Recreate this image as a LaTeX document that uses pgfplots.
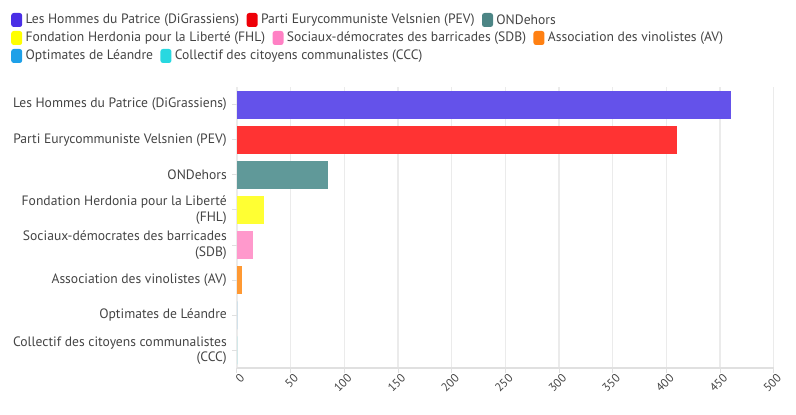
\documentclass[border=0pt]{standalone}
\usepackage{pgfplots}
\pgfplotsset{compat=1.18}
\usepackage{fontspec}
\setmainfont{PT Sans}
\definecolor{labc}{HTML}{444444}
\definecolor{gridc}{HTML}{EBEBEB}
\definecolor{axisc}{HTML}{E0E0E0}
\definecolor{b1}{HTML}{6452EA}
\definecolor{b2}{HTML}{FF3333}
\definecolor{b3}{HTML}{609999}
\definecolor{b4}{HTML}{FFFF33}
\definecolor{b5}{HTML}{FF99CC}
\definecolor{b6}{HTML}{FF9933}
\definecolor{l1}{HTML}{4A2EE6}
\definecolor{l2}{HTML}{EE0008}
\definecolor{l3}{HTML}{4C8585}
\definecolor{l4}{HTML}{FFFF00}
\definecolor{l5}{HTML}{FF80C4}
\definecolor{l6}{HTML}{FF8012}
\definecolor{l7}{HTML}{1EA0E8}
\definecolor{l8}{HTML}{28D8E0}
\newcommand\labfont{\fontsize{13.6}{15.5}\selectfont}
\newcommand\legentry[4]{%
  \node[fill=#2, rounded corners=2.5pt, minimum width=11pt, minimum height=14pt, inner sep=0pt, anchor=west] (#1s) at #3 {};
  \node[anchor=west, inner sep=0pt, text=labc, font=\labfont] (#1) at ([xshift=3pt]#1s.east) {#4};
}
\begin{document}
\begin{tikzpicture}[x=1pt,y=1pt]
\useasboundingbox (0,0) rectangle (796,415);
\begin{axis}[
  at={(237pt,47pt)}, anchor=south west,
  width=536.7pt, height=281pt, scale only axis,
  xmin=0, xmax=500, ymin=-0.5, ymax=7.5, y dir=reverse,
  xbar, bar width=28pt, bar shift=0pt,
  xtick={0,50,...,500}, ytick={0,...,7},
  yticklabels={Les Hommes du Patrice (DiGrassiens),Parti Eurycommuniste Velsnien (PEV),ONDehors,{Fondation Herdonia pour la Liberté\\(FHL)},{Sociaux-démocrates des barricades\\(SDB)},Association des vinolistes (AV),Optimates de Léandre,{Collectif des citoyens communalistes\\(CCC)}},
  xmajorgrids, grid style={color=gridc, line width=1.3pt},
  axis x line*=bottom, axis y line*=left,
  x axis line style={color=axisc, line width=1.6pt, -},
  y axis line style={draw=none},
  tick style={color=axisc, line width=1pt},
  major tick length=5pt, tick align=outside,
  y tick label style={align=right, text=labc, font=\labfont, inner sep=0pt, xshift=-5pt},
  x tick label style={rotate=45, anchor=east, text=labc, font=\fontsize{11.8}{13}\selectfont, xshift=5pt, yshift=-6pt},
  /pgf/number format/assume math mode=true,
  clip=false,
]
\addplot[fill=b1, draw=none] coordinates {(460,0)};
\addplot[fill=b2, draw=none] coordinates {(410,1)};
\addplot[fill=b3, draw=none] coordinates {(85,2)};
\addplot[fill=b4, draw=none] coordinates {(25,3)};
\addplot[fill=b5, draw=none] coordinates {(15,4)};
\addplot[fill=b6, draw=none] coordinates {(5,5)};
\addplot[fill=l7, draw=none] coordinates {(0,6)};
\addplot[fill=l8, draw=none] coordinates {(0,7)};
\end{axis}
\legentry{a}{l1}{(11,395)}{Les Hommes du Patrice (DiGrassiens)}
\legentry{b}{l2}{([xshift=7pt]a.east)}{Parti Eurycommuniste Velsnien (PEV)}
\legentry{c}{l3}{([xshift=7pt]b.east)}{ONDehors}
\legentry{d}{l4}{(11,377)}{Fondation Herdonia pour la Liberté (FHL)}
\legentry{e}{l5}{([xshift=7pt]d.east)}{Sociaux-démocrates des barricades (SDB)}
\legentry{f}{l6}{([xshift=7pt]e.east)}{Association des vinolistes (AV)}
\legentry{g}{l7}{(11,359)}{Optimates de Léandre}
\legentry{h}{l8}{([xshift=7pt]g.east)}{Collectif des citoyens communalistes (CCC)}
\end{tikzpicture}
\end{document}
